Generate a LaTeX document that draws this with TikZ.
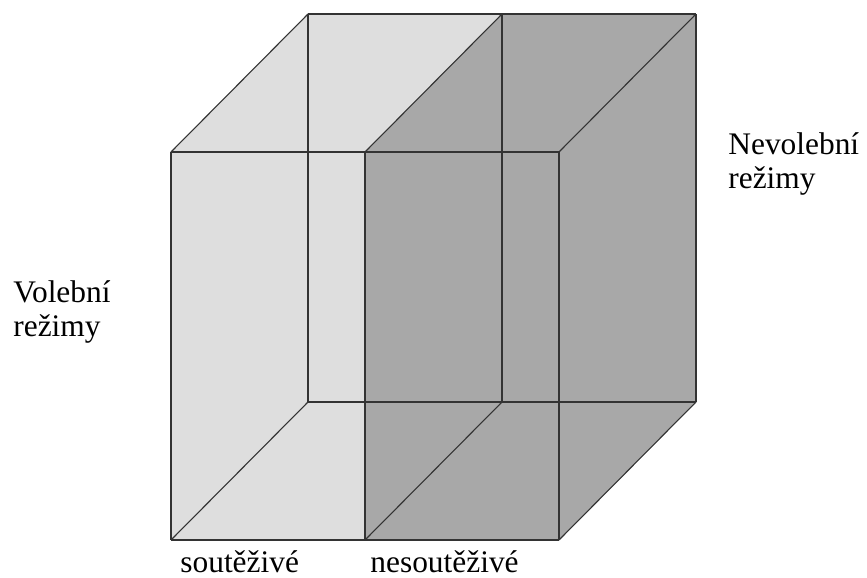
\documentclass[tikz,border=0pt]{standalone}
\usepackage{fontspec}
\setmainfont{Liberation Serif}
\definecolor{lightbox}{HTML}{DEDEDE}
\definecolor{darkbox}{HTML}{A8A8A8}
\tikzset{
  edge/.style={draw=black!80, line width=0.55pt},
  lbl/.style={inner sep=0pt, align=left, font=\fontsize{15.7}{17.2}\selectfont},
}
\begin{document}
\begin{tikzpicture}[x=0.5pt,y=-0.5pt]
    \useasboundingbox (0,0) rectangle (867,578);
    % corners: front (f) and back (b), top (t) and bottom (u), left/middle/right
    \foreach \n/\x in {l/171,m/365,r/559} {
        \coordinate (ft\n) at (\x,152);
        \coordinate (fu\n) at (\x,540);
        \coordinate (bt\n) at (\x+137,14);
        \coordinate (bu\n) at (\x+137,402);
    }

    % light half (left box)
    \fill[lightbox] (ful) -- (ftl) -- (btl) -- (btm) -- (ftm) -- (fum) -- cycle;
    % dark half (right box)
    \fill[darkbox] (fum) -- (ftm) -- (btm) -- (btr) -- (bur) -- (fur) -- cycle;

    % edges
    \foreach \n in {l,m,r} {
        \draw[edge] (ft\n) -- (fu\n);
        \draw[edge] (bt\n) -- (bu\n);
        \draw[edge] (ft\n) -- (bt\n);
        \draw[edge] (fu\n) -- (bu\n);
    }
    \draw[edge] (ftl) -- (ftr);
    \draw[edge] (ful) -- (fur);
    \draw[edge] (btl) -- (btr);
    \draw[edge] (bul) -- (bur);

    % labels
    \node[lbl, anchor=north west] (volebni) at (13,280) {Volební\\režimy};
    \node[lbl, anchor=north west] (nevolebni) at (728,132) {Nevolební\\režimy};
    \node[lbl, anchor=base west] (soutezive) at (180,572) {soutěživé};
    \node[lbl, anchor=base west] (nesoutezive) at (370,572) {nesoutěživé};
\end{tikzpicture}
\end{document}
